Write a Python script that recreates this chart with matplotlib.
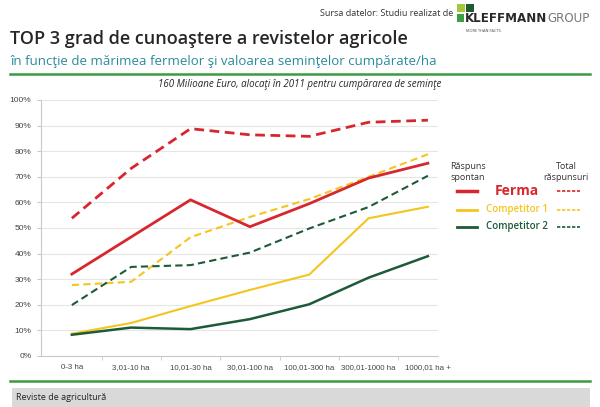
import matplotlib
matplotlib.use("Agg")
import matplotlib.pyplot as plt
from matplotlib.patches import Rectangle
from matplotlib.lines import Line2D

categories = ["0-3 ha", "3,01-10 ha", "10,01-30 ha", "30,01-100 ha",
              "100,01-300 ha", "300,01-1000 ha", "1000,01 ha +"]
ferma_spontan = [32, 46.5, 61, 50.5, 59.5, 69.5, 75.3]
ferma_total = [53.8, 73.3, 88.8, 86.4, 85.8, 91.3, 92.1]
comp1_spontan = [8.7, 12.9, 19.5, 25.8, 31.8, 53.8, 58.3]
comp1_total = [27.7, 29, 46.4, 54.3, 61.3, 70, 78.8]
comp2_spontan = [8.3, 11.1, 10.5, 14.4, 20.2, 30.6, 39]
comp2_total = [19.9, 34.8, 35.5, 40.4, 49.8, 58.2, 70.4]
yticks = [0, 10, 20, 30, 40, 50, 60, 70, 80, 90, 100]

RED = "#d8262e"
YELLOW = "#f4c51f"
GREEN = "#1d5b38"
W, H = 600, 407

fig = plt.figure(figsize=(6.0, 4.07), dpi=100)
fig.patch.set_facecolor("white")


def fx(x):
    return x / W


def fy(y):
    return 1 - y / H


narrow = ["Liberation Sans Narrow", "Liberation Sans", "DejaVu Sans"]
lf = ["Open Sans", "DejaVu Sans"]

# axes
left, right, top, bottom = 41, 438, 100, 356
ax = fig.add_axes([fx(left), fy(bottom), (right - left) / W, (bottom - top) / H])
x = list(range(len(categories)))
series = [
    (ferma_total, RED, True, 2.0),
    (comp1_total, YELLOW, True, 1.5),
    (comp2_total, GREEN, True, 1.5),
    (ferma_spontan, RED, False, 2.0),
    (comp1_spontan, YELLOW, False, 1.5),
    (comp2_spontan, GREEN, False, 1.8),
]
for vals, c, dashed, lw in series:
    kw = {"dashes": (3.5, 2)} if dashed else {}
    ax.plot(x, vals, color=c, lw=lw, **kw)

ax.set_xlim(-0.52, 6.17)
ax.set_ylim(0, 100)
ax.set_yticks(yticks)
ax.set_yticklabels([f"{v}%" for v in yticks], fontsize=6, color="#444444",
                   family=narrow)
ax.set_xticks(x)
ax.set_xticklabels(categories, fontsize=5.7, color="#444444", family=narrow)
ax.set_xticks([i + 0.5 for i in range(len(categories) - 1)], minor=True)
ax.tick_params(axis="x", which="major", length=0, pad=6)
ax.tick_params(axis="x", which="minor", length=3, color="#c8c8c8")
ax.tick_params(axis="y", length=3, color="#c8c8c8", pad=4)
ax.grid(axis="y", color="#e6e6e6", lw=0.8)
ax.set_axisbelow(True)
for s in ["top", "right"]:
    ax.spines[s].set_visible(False)
for s in ["left", "bottom"]:
    ax.spines[s].set_color("#c8c8c8")
    ax.spines[s].set_linewidth(0.8)

# header texts
fig.text(fx(453), fy(14), "Sursa datelor: Studiu realizat de", fontsize=6.5,
         color="#333333", ha="right", va="center", family=lf)
# logo
fig.patches.append(Rectangle((fx(457), fy(12)), 8 / W, 8 / H, transform=fig.transFigure,
                             color="#a5c83a", lw=0))
fig.patches.append(Rectangle((fx(466), fy(12)), 8 / W, 8 / H, transform=fig.transFigure,
                             color="#1f5a30", lw=0))
fig.patches.append(Rectangle((fx(457), fy(22)), 7 / W, 8 / H, transform=fig.transFigure,
                             color="#3aa043", lw=0))
t1 = fig.text(fx(465), fy(18.5), "KLEFFMANN", fontsize=8.6, fontweight="bold",
              color="#2a2a2a", ha="left", va="center", family=["DejaVu Sans"])
fig.canvas.draw()
bb = t1.get_window_extent()
fig.text(bb.x1 / (W) + 0.5 / W, fy(18.5), "GROUP", fontsize=8.6, color="#777777",
         ha="left", va="center", family=["DejaVu Sans"])
fig.text(fx(466), fy(31), "MORE THAN FACTS.", fontsize=2.8, color="#444444",
         ha="left", va="center", family=lf)

fig.text(fx(10), fy(39), "TOP 3 grad de cunoaştere a revistelor agricole", fontsize=13,
         color="#262626", ha="left", va="center", family=lf, fontweight="semibold")
fig.text(fx(11), fy(61), "în funcţie de mărimea fermelor şi valoarea seminţelor cumpărate/ha",
         fontsize=9.5, color="#2a8a9c", ha="left", va="center", family=lf)
fig.add_artist(Line2D([fx(10), fx(590)], [fy(74), fy(74)], color="#3c9a44", lw=1.8))
fig.text(fx(300), fy(84), "160 Milioane Euro, alocaţi în 2011 pentru cumpărarea de seminţe",
         fontsize=7, style="italic", color="#262626", ha="center", va="center", family=lf)

# bottom
fig.add_artist(Line2D([fx(10), fx(590)], [fy(381), fy(381)], color="#3c9a44", lw=1.8))
fig.patches.append(Rectangle((fx(12), 0), (590 - 12) / W, 19 / H, transform=fig.transFigure,
                             color="#d9d9d9", lw=0))
fig.text(fx(16), fy(397.5), "Reviste de agricultură", fontsize=6.5, color="#222222",
         ha="left", va="center", family=lf)

# legend
fig.text(fx(468), fy(172), "Răspuns\nspontan", fontsize=6.5, color="#333333",
         ha="center", va="center", family=lf, linespacing=1.3)
fig.text(fx(566), fy(172), "Total\nrăspunsuri", fontsize=6.5, color="#333333",
         ha="center", va="center", family=lf, linespacing=1.3)
leg = [("Ferma", RED, 191, 10, "bold", 2.5),
       ("Competitor 1", YELLOW, 209.5, 7, "semibold", 2.0),
       ("Competitor 2", GREEN, 227, 7, "semibold", 2.0)]
for label, c, yy, fs, fw, lw in leg:
    fig.add_artist(Line2D([fx(457), fx(477)], [fy(yy), fy(yy)], color=c, lw=lw))
    fig.add_artist(Line2D([fx(557), fx(580)], [fy(yy), fy(yy)], color=c, lw=1.2,
                          dashes=(2, 1)))
    fig.text(fx(517), fy(yy), label, fontsize=fs, color=c, ha="center", va="center",
             family=lf, fontweight=fw)

fig.savefig("out.png", dpi=100, facecolor="white")
